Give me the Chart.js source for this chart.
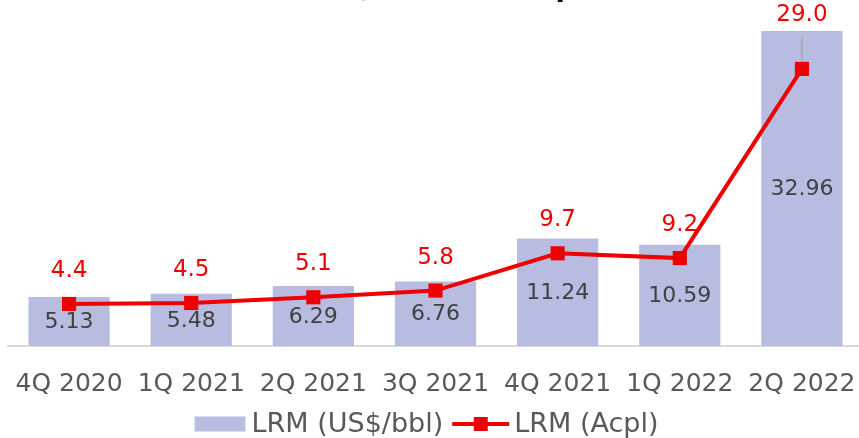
<!DOCTYPE html>
<html>
<head>
<meta charset="utf-8">
<script src="https://cdn.jsdelivr.net/npm/chart.js@4/dist/chart.umd.min.js"></script>
<style>
  html, body { margin: 0; padding: 0; background: #ffffff; }
  /* the plot runs flush to the right edge, so the canvas is a bit wider than the frame */
  #wrap { position: relative; width: 859px; height: 438px; overflow: hidden; }
</style>
</head>
<body>
<div id="wrap"><canvas id="lrmChart" width="872" height="438"></canvas></div>
<script>
// Quarterly refining margin figures
const quarters = ["4Q 2020", "1Q 2021", "2Q 2021", "3Q 2021", "4Q 2021", "1Q 2022", "2Q 2022"];
const lrmUsd = [5.13, 5.48, 6.29, 6.76, 11.24, 10.59, 32.96];
const lrmAcpl = [4.4, 4.5, 5.1, 5.8, 9.7, 9.2, 29.0];

const seriesNames = ["LRM (US$/bbl)", "LRM (Acpl)"];
const chartTitle = "LRM (US$/bbl) and Acpl";

const VISIBLE_WIDTH = 859;

const COLORS = {
  bar: "#b9bce1",
  line: "#ee0000",
  barLabel: "#404040",
  tick: "#595959",
  axis: "#d9d9d9",
  leader: "#a6a6a6",
};
const FONT = "'DejaVu Sans', sans-serif";

// Labels: values inside the bars, red values above the line markers
const valueLabels = {
  id: "valueLabels",
  afterDatasetsDraw(chart) {
    const { ctx } = chart;
    const barMeta = chart.getDatasetMeta(1);
    const lineMeta = chart.getDatasetMeta(0);
    ctx.save();
    ctx.textAlign = "center";
    ctx.textBaseline = "middle";

    ctx.font = `22px ${FONT}`;
    ctx.fillStyle = COLORS.barLabel;
    barMeta.data.forEach((bar, i) => {
      const mid = (bar.y + bar.base) / 2;
      ctx.fillText(lrmUsd[i].toFixed(2), bar.x, mid + 1);
    });

    ctx.font = `23px ${FONT}`;
    lineMeta.data.forEach((pt, i) => {
      const barTop = barMeta.data[i].y;
      let labelY = pt.y - 33;
      // point sits inside a tall bar: lift the label above it with a leader
      if (labelY > barTop && pt.y - barTop > 30) {
        labelY = barTop - 16;
        ctx.strokeStyle = COLORS.leader;
        ctx.lineWidth = 1.5;
        ctx.beginPath();
        ctx.moveTo(pt.x, labelY + 22);
        ctx.lineTo(pt.x, pt.y - 7);
        ctx.stroke();
      }
      ctx.fillStyle = COLORS.line;
      ctx.fillText(lrmAcpl[i].toFixed(1), pt.x, labelY);
    });
    ctx.restore();
  },
};

// Title runs off the top edge; legend is drawn centred under the axis
const titleAndLegend = {
  id: "titleAndLegend",
  afterDraw(chart) {
    const { ctx } = chart;
    ctx.save();
    ctx.font = `bold 27px ${FONT}`;
    ctx.fillStyle = "#000000";
    ctx.textBaseline = "alphabetic";
    ctx.textAlign = "center";
    ctx.fillText(chartTitle, 405, -4);

    ctx.font = `27px ${FONT}`;
    ctx.textAlign = "left";
    ctx.textBaseline = "middle";
    const boxW = 51, boxH = 15, lineW = 57, gap = 6;
    const w1 = ctx.measureText(seriesNames[0]).width;
    const w2 = ctx.measureText(seriesNames[1]).width;
    const total = boxW + gap + w1 + 9 + lineW + 5 + w2;
    let x = VISIBLE_WIDTH / 2 - total / 2 - 3;
    const y = 424;

    ctx.fillStyle = COLORS.bar;
    ctx.fillRect(x, y - boxH / 2, boxW, boxH);
    x += boxW + gap;
    ctx.fillStyle = COLORS.tick;
    ctx.fillText(seriesNames[0], x, y + 1);
    x += w1 + 9;

    ctx.strokeStyle = COLORS.line;
    ctx.lineWidth = 4;
    ctx.beginPath();
    ctx.moveTo(x, y);
    ctx.lineTo(x + lineW, y);
    ctx.stroke();
    ctx.fillStyle = COLORS.line;
    ctx.fillRect(x + lineW / 2 - 7, y - 7, 14, 14);
    x += lineW + 5;
    ctx.fillStyle = COLORS.tick;
    ctx.fillText(seriesNames[1], x, y + 1);
    ctx.restore();
  },
};

new Chart(document.getElementById("lrmChart"), {
  data: {
    labels: quarters,
    datasets: [
      {
        type: "line",
        label: seriesNames[1],
        data: lrmAcpl,
        borderColor: COLORS.line,
        backgroundColor: COLORS.line,
        borderWidth: 4,
        pointStyle: "rect",
        pointRadius: 10,
        pointBorderWidth: 0,
        pointBackgroundColor: COLORS.line,
        tension: 0,
        order: 0,
      },
      {
        type: "bar",
        label: seriesNames[0],
        data: lrmUsd,
        backgroundColor: COLORS.bar,
        borderWidth: 0,
        barPercentage: 0.665,
        categoryPercentage: 1,
        order: 1,
      },
    ],
  },
  options: {
    responsive: false,
    animation: false,
    layout: { autoPadding: false, padding: { left: 8, right: 9, top: 2, bottom: 16 } },
    plugins: {
      legend: { display: false },
      tooltip: { enabled: false },
      title: { display: false },
    },
    scales: {
      x: {
        grid: { display: false, drawTicks: false },
        border: { display: true, color: COLORS.axis, width: 2 },
        ticks: {
          color: COLORS.tick,
          font: { family: FONT, size: 25 },
          padding: 23,
          maxRotation: 0,
          autoSkip: false,
        },
        // keep the outer labels from shrinking the plot sideways
        afterFit: (scale) => {
          scale.paddingLeft = 0;
          scale.paddingRight = 0;
        },
      },
      y: {
        display: false,
        min: 0,
        max: 36,
      },
    },
  },
  plugins: [valueLabels, titleAndLegend],
});
</script>
</body>
</html>
